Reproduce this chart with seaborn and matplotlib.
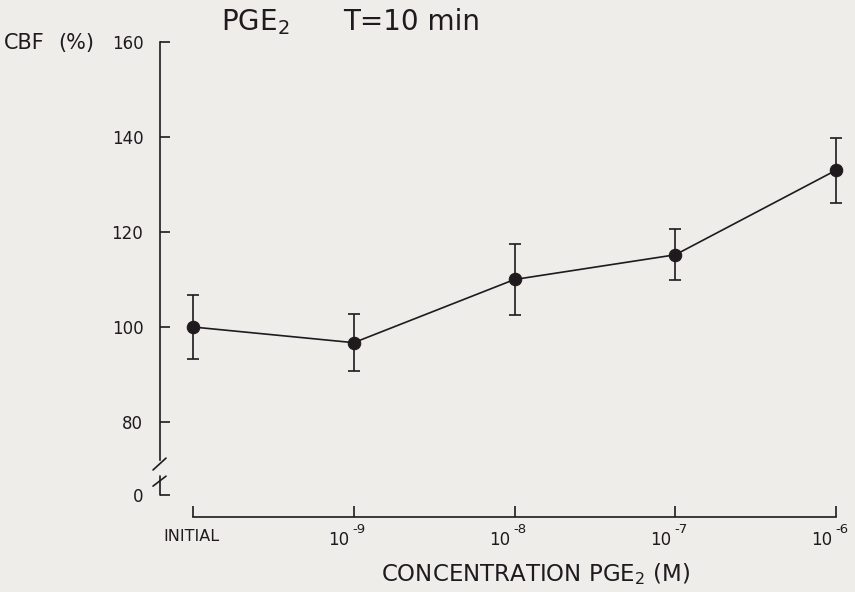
import matplotlib
matplotlib.use("Agg")
import matplotlib.pyplot as plt
import matplotlib.transforms as mtransforms
import seaborn as sns
import pandas as pd

# ---- data ----
tick_bases = ["INITIAL", "10", "10", "10", "10"]
tick_exponents = ["", "-9", "-8", "-7", "-6"]
cbf_mean = [100.0, 96.7, 110.0, 115.2, 133.0]
cbf_err = [6.7, 6.0, 7.5, 5.4, 6.8]
ytick_values = [64.6, 80, 100, 120, 140, 160]   # 64.6 is where the broken axis puts "0"
ytick_labels = ["0", "80", "100", "120", "140", "160"]

sns.set_theme(style="white")
plt.rcParams["font.family"] = ["DejaVu Sans"]
plt.rcParams["mathtext.default"] = "regular"

ink = "#1e1a1e"
bg = "#eeedea"

fig = plt.figure(figsize=(8.55, 5.92), dpi=100, facecolor=bg)
W, H = 855, 592
ax = fig.add_axes([160 / W, 75 / H, (836 - 160) / W, (517 - 42) / H])
ax.set_facecolor(bg)

df = pd.DataFrame({"pos": range(len(tick_bases)), "cbf": cbf_mean})
sns.lineplot(data=df, x="pos", y="cbf", ax=ax, color=ink, linewidth=1.2,
             marker="o", markersize=9, markeredgecolor=ink, markerfacecolor=ink,
             clip_on=False, zorder=3)
ax.errorbar(df["pos"], df["cbf"], yerr=cbf_err, fmt="none", ecolor=ink,
            elinewidth=1.2, capsize=4, capthick=1.2, clip_on=False, zorder=3)

ax.set_xlim(-(193 - 160) / 160.75, 4)
ax.set_ylim(60, 160)

# spines
for s in ["top", "right"]:
    ax.spines[s].set_visible(False)
for s in ["left", "bottom"]:
    ax.spines[s].set_color(ink)
    ax.spines[s].set_linewidth(1.2)
ax.spines["bottom"].set_bounds(0, 4)
ax.spines["left"].set_bounds(72.0, 160)

# axis break on y
tr = mtransforms.blended_transform_factory(ax.transAxes, ax.transData)
px = 1 / (836 - 160)
ax.plot([-7 * px, 6 * px], [69.9, 72.4], color=ink, lw=1.2, transform=tr, clip_on=False)
ax.plot([-7 * px, 6 * px], [66.5, 68.6], color=ink, lw=1.2, transform=tr, clip_on=False)
ax.plot([0, 0], [68.6, 64.6], color=ink, lw=1.2, transform=tr, clip_on=False)

ax.set_yticks(ytick_values)
ax.set_yticklabels(ytick_labels)
ax.set_xticks(range(len(tick_bases)))
ax.set_xticklabels([])
ax.tick_params(axis="y", direction="in", length=7, width=1.2, color=ink,
               pad=12, labelsize=12, labelcolor=ink, left=True)
ax.tick_params(axis="x", direction="in", length=8, width=1.2, color=ink,
               bottom=True)

# x tick labels: base text plus raised exponent
xtr = mtransforms.blended_transform_factory(ax.transData, ax.transAxes)
for i, (base, expo) in enumerate(zip(tick_bases, tick_exponents)):
    if expo:
        t_base = xtr + mtransforms.ScaledTranslation(-4 / 100, -28 / 100, fig.dpi_scale_trans)
        ax.text(i, 0, base, transform=t_base, ha="right", va="baseline",
                fontsize=12, color=ink)
        t_exp = xtr + mtransforms.ScaledTranslation(-1 / 100, -16 / 100, fig.dpi_scale_trans)
        ax.text(i, 0, expo, transform=t_exp, ha="left", va="baseline",
                fontsize=9.5, color=ink)
    else:
        t_base = xtr + mtransforms.ScaledTranslation(-1.5 / 100, -24 / 100, fig.dpi_scale_trans)
        ax.text(i, 0, base, transform=t_base, ha="center", va="baseline",
                fontsize=11.5, color=ink)

ax.set_xlabel("")
ax.set_ylabel("")

fig.text(4 / W, 1 - 43 / H, "CBF", ha="left", va="center", fontsize=15, color=ink)
fig.text(58 / W, 1 - 43 / H, "(%)", ha="left", va="center", fontsize=15, color=ink)
fig.text(221 / W, 1 - 22 / H, "PGE$_2$", ha="left", va="center", fontsize=20, color=ink)
fig.text(343 / W, 1 - 22 / H, "T=10 min", ha="left", va="center", fontsize=20, color=ink)
fig.text(536 / W, 1 - 574 / H, "CONCENTRATION PGE$_2$ (M)", ha="center", va="center",
         fontsize=16.5, color=ink)

fig.savefig("out.png", dpi=100, facecolor=bg)
